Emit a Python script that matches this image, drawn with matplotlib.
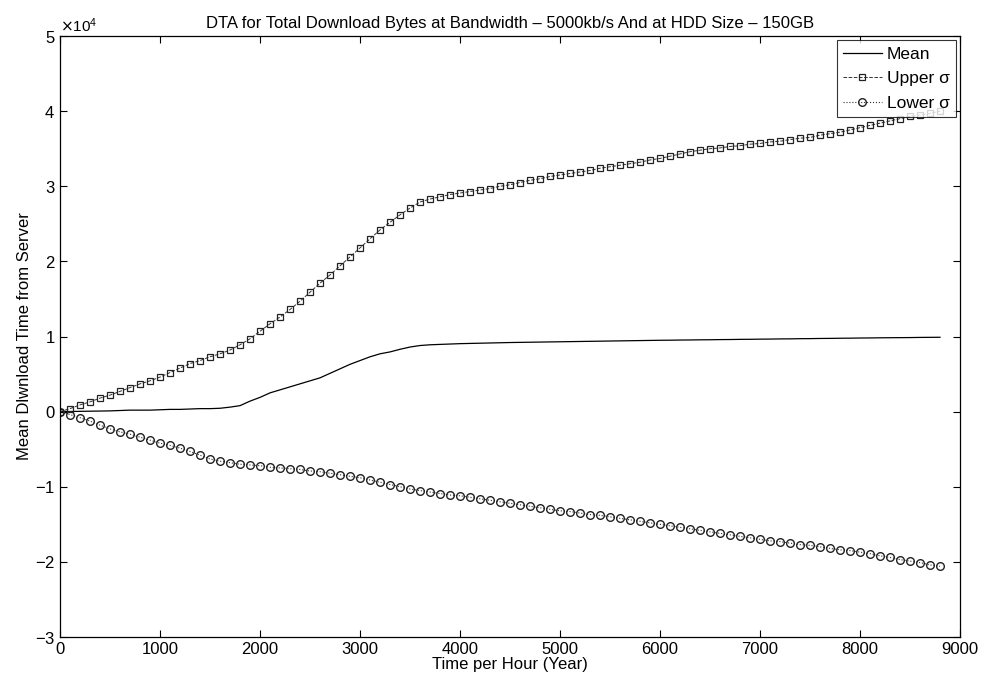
import matplotlib
matplotlib.use("Agg")
import matplotlib.pyplot as plt
from matplotlib.ticker import ScalarFormatter

plt.rcParams['font.family'] = ['Liberation Sans', 'DejaVu Sans']

hours = list(range(0, 8801, 100))

mean_vals = [0, 20, 40, 60, 80, 100, 150, 200, 200, 200,
             250, 300, 300, 350, 400, 400, 450, 600, 800, 1400,
             1900, 2500, 2900, 3300, 3700, 4100, 4500, 5100, 5700, 6300,
             6800, 7300, 7700, 7950, 8300, 8600, 8800, 8900, 8950, 9000,
             9050, 9080, 9110, 9140, 9170, 9200, 9220, 9240, 9260, 9280,
             9300, 9320, 9340, 9360, 9380, 9400, 9420, 9440, 9460, 9480,
             9500, 9510, 9530, 9540, 9560, 9570, 9590, 9600, 9620, 9630,
             9650, 9660, 9680, 9690, 9710, 9720, 9740, 9750, 9770, 9780,
             9800, 9810, 9830, 9840, 9850, 9860, 9880, 9890, 9900]

upper_vals = [0, 400, 900, 1300, 1800, 2200, 2700, 3200, 3700, 4100,
              4600, 5200, 5800, 6400, 6800, 7300, 7700, 8200, 8900, 9700,
              10700, 11700, 12600, 13600, 14700, 15900, 17100, 18200, 19400, 20600,
              21800, 23000, 24200, 25200, 26200, 27100, 27900, 28300, 28600, 28900,
              29100, 29300, 29500, 29700, 30000, 30200, 30500, 30800, 31000, 31300,
              31500, 31700, 31900, 32100, 32400, 32600, 32800, 33000, 33200, 33500,
              33700, 34000, 34300, 34600, 34800, 35000, 35100, 35300, 35400, 35600,
              35700, 35900, 36000, 36200, 36400, 36500, 36800, 37000, 37200, 37500,
              37800, 38100, 38400, 38700, 39000, 39300, 39500, 39700, 40000]

lower_vals = [0, -400, -800, -1250, -1800, -2300, -2700, -3000, -3400, -3800,
              -4200, -4500, -4850, -5300, -5800, -6300, -6600, -6800, -7000, -7100,
              -7200, -7400, -7500, -7600, -7700, -7900, -8000, -8200, -8400, -8600,
              -8800, -9100, -9400, -9700, -10000, -10300, -10500, -10700, -10900, -11100,
              -11200, -11400, -11600, -11800, -12000, -12200, -12400, -12600, -12800, -13000,
              -13200, -13300, -13500, -13700, -13800, -14000, -14200, -14400, -14600, -14800,
              -15000, -15200, -15400, -15600, -15800, -16000, -16200, -16400, -16600, -16800,
              -17000, -17200, -17300, -17500, -17700, -17800, -18000, -18200, -18400, -18500,
              -18700, -18900, -19200, -19400, -19700, -19900, -20100, -20400, -20600]

title = "DTA for Total Download Bytes at Bandwidth \u2013 5000kb/s And at HDD Size \u2013 150GB"
xlabel = "Time per Hour (Year)"
ylabel = "Mean Dlwnload Time from Server"

fig = plt.figure(figsize=(9.89, 6.86), dpi=100)
ax = fig.add_axes([0.0607, 0.0714, 0.91, 0.8761])

ax.plot(hours, mean_vals, '-', color='black', linewidth=0.9, label='Mean')
ax.plot(hours, upper_vals, '--', color='#333333', linewidth=0.7, marker='s',
        markersize=5, markerfacecolor='none', markeredgecolor='#222222',
        markeredgewidth=0.9, label='Upper \u03c3')
ax.plot(hours, lower_vals, ':', color='#333333', linewidth=0.8, marker='o',
        markersize=5.5, markerfacecolor='none', markeredgecolor='#222222',
        markeredgewidth=1.0, label='Lower \u03c3')

ax.set_xlim(0, 9000)
ax.set_ylim(-30000, 50000)
ax.set_xticks(range(0, 9001, 1000))
ax.set_yticks(range(-30000, 50001, 10000))

fmt = ScalarFormatter(useMathText=True)
fmt.set_powerlimits((0, 0))
ax.yaxis.set_major_formatter(fmt)
ax.yaxis.get_offset_text().set_fontsize(11)

ax.tick_params(direction='in', top=True, right=True, labelsize=12, length=5, width=0.8)
for s in ax.spines.values():
    s.set_linewidth(0.9)

ax.set_title(title, fontsize=12, pad=6)
ax.set_xlabel(xlabel, fontsize=12, labelpad=0)
ax.set_ylabel(ylabel, fontsize=12, labelpad=2)

leg = ax.legend(loc='upper right', fontsize=12.5, frameon=True, fancybox=False,
                edgecolor='black', borderaxespad=0.25, handlelength=2.2,
                handletextpad=0.3, borderpad=0.35, labelspacing=0.55)
leg.get_frame().set_linewidth(0.8)

fig.savefig("out.png", dpi=100)
